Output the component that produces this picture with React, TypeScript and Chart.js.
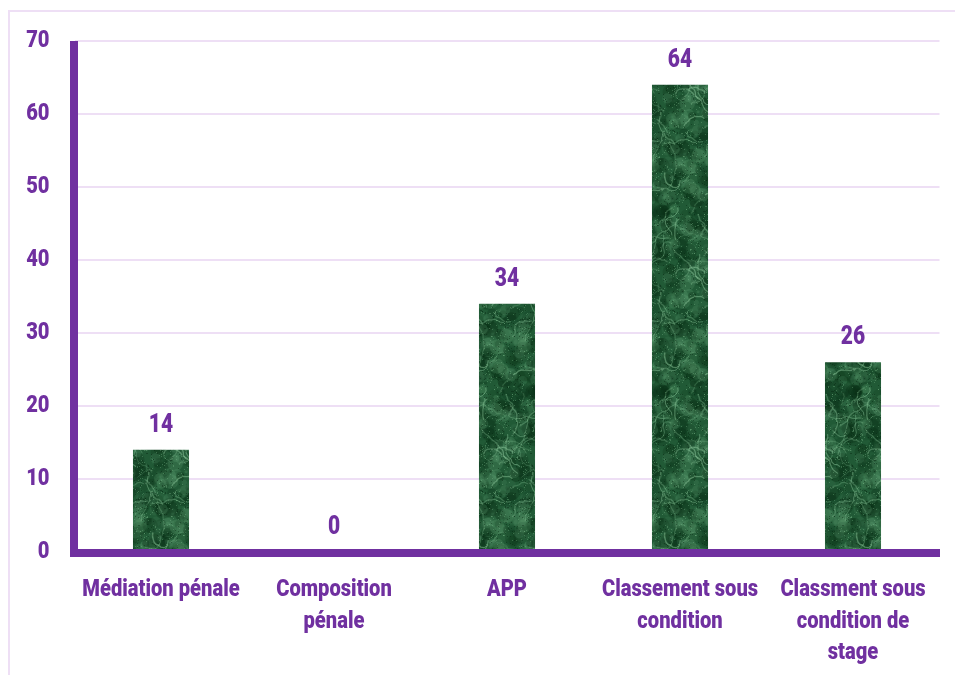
import React, { useEffect, useRef } from "react";
import { Chart, registerables } from "chart.js";

Chart.register(...registerables);

// Number of measures by type of alternative to prosecution
const categories: (string | string[])[] = [
  "Médiation pénale",
  ["Composition", "pénale"],
  "APP",
  ["Classement sous", "condition"],
  ["Classment sous", "condition de", "stage"],
];
const counts: number[] = [14, 0, 34, 64, 26];
const yTicks: number[] = [0, 10, 20, 30, 40, 50, 60, 70];

const PURPLE = "#7030A0";
const GRID = "#EEDFF5";
const FONT = 'Roboto, "Noto Sans", sans-serif';
const WEIGHT = 900;
const NARROW = 0.84; // horizontal squeeze for the condensed lettering

// Small seeded generator so the marble texture is the same on every render
function makeRng(seed: number) {
  let s = seed >>> 0;
  return () => {
    s = (s * 1664525 + 1013904223) >>> 0;
    return s / 4294967296;
  };
}

// Seamless green marble fill for the bars
function marblePattern(ctx: CanvasRenderingContext2D): CanvasPattern | string {
  const w = 64;
  const h = 180;
  const raw = document.createElement("canvas");
  raw.width = w;
  raw.height = h;
  const r = raw.getContext("2d");
  if (!r) return "#1F5A34";
  const rand = makeRng(20240517);
  r.fillStyle = "#215A36";
  r.fillRect(0, 0, w, h);
  const wrap = (draw: (ox: number, oy: number) => void) => {
    for (const ox of [-w, 0, w]) for (const oy of [-h, 0, h]) draw(ox, oy);
  };
  // cloudy variation
  for (let i = 0; i < 320; i++) {
    const x = rand() * w;
    const y = rand() * h;
    const rad = 1.5 + rand() * 7;
    const light = rand() < 0.45;
    const col = light
      ? `rgba(105, 170, 125, ${0.08 + rand() * 0.16})`
      : `rgba(8, 45, 20, ${0.12 + rand() * 0.22})`;
    wrap((ox, oy) => {
      r.fillStyle = col;
      r.beginPath();
      r.arc(x + ox, y + oy, rad, 0, Math.PI * 2);
      r.fill();
    });
  }
  // fine veins
  r.lineCap = "round";
  for (let v = 0; v < 44; v++) {
    let x = rand() * w;
    let y = rand() * h;
    let ang = rand() * Math.PI * 2;
    const col = `rgba(145, 205, 160, ${0.2 + rand() * 0.28})`;
    const lw = 0.6 + rand() * 0.9;
    const pts: [number, number][] = [[x, y]];
    const steps = 5 + Math.floor(rand() * 9);
    for (let s = 0; s < steps; s++) {
      ang += (rand() - 0.5) * 1.4;
      x += Math.cos(ang) * 3;
      y += Math.sin(ang) * 3;
      pts.push([x, y]);
    }
    wrap((ox, oy) => {
      r.strokeStyle = col;
      r.lineWidth = lw;
      r.beginPath();
      pts.forEach(([px, py], k) =>
        k === 0 ? r.moveTo(px + ox, py + oy) : r.lineTo(px + ox, py + oy)
      );
      r.stroke();
    });
  }
  // speckles
  for (let i = 0; i < 900; i++) {
    const x = Math.floor(rand() * w);
    const y = Math.floor(rand() * h);
    r.fillStyle = rand() < 0.5 ? "rgba(125,190,140,0.35)" : "rgba(5,35,15,0.4)";
    r.fillRect(x, y, 1, 1);
  }
  // tile 3x3, soften, keep the centre tile so the edges stay seamless
  const big = document.createElement("canvas");
  big.width = w * 3;
  big.height = h * 3;
  const b = big.getContext("2d");
  if (!b) return "#1F5A34";
  for (let i = 0; i < 3; i++) for (let j = 0; j < 3; j++) b.drawImage(raw, i * w, j * h);
  const soft = document.createElement("canvas");
  soft.width = w;
  soft.height = h;
  const sctx = soft.getContext("2d");
  if (!sctx) return "#1F5A34";
  sctx.filter = "blur(0.6px)";
  sctx.drawImage(big, -w, -h);
  sctx.filter = "none";
  return ctx.createPattern(soft, "repeat") || "#1F5A34";
}

function narrowText(
  ctx: CanvasRenderingContext2D,
  text: string,
  x: number,
  y: number
) {
  ctx.save();
  ctx.translate(x, y);
  ctx.scale(NARROW, 1);
  ctx.fillText(text, 0, 0);
  ctx.restore();
}

// Thin lavender frame around the chart
const framePlugin = {
  id: "frame",
  beforeDraw(chart: any) {
    const { ctx } = chart;
    ctx.save();
    ctx.strokeStyle = GRID;
    ctx.lineWidth = 2;
    ctx.beginPath();
    ctx.moveTo(9, chart.height);
    ctx.lineTo(9, 11);
    ctx.lineTo(chart.width, 11);
    ctx.stroke();
    ctx.restore();
  },
};

// Heavy purple axis lines and condensed tick labels
const axesPlugin = {
  id: "axesText",
  afterDraw(chart: any) {
    const { ctx, chartArea } = chart;
    const xs = chart.scales.x;
    const ys = chart.scales.y;
    ctx.save();
    ctx.fillStyle = PURPLE;
    ctx.fillRect(chartArea.left - 4.5, chartArea.top, 8, chartArea.bottom - chartArea.top + 5);
    ctx.fillRect(chartArea.left - 0.5, chartArea.bottom - 3, chartArea.right - chartArea.left + 1, 8);

    ctx.font = `${WEIGHT} 24px ${FONT}`;
    ctx.textAlign = "right";
    ctx.textBaseline = "middle";
    yTicks.forEach((v) => {
      narrowText(ctx, String(v), ys.right - 25, ys.getPixelForValue(v));
    });

    ctx.textAlign = "center";
    ctx.textBaseline = "middle";
    categories.forEach((c, i) => {
      const lines = Array.isArray(c) ? c : [c];
      const x = xs.getPixelForTick(i);
      lines.forEach((line, j) => {
        narrowText(ctx, line, x, xs.top + 38 + j * 31.5);
      });
    });

    // value above each bar
    const meta = chart.getDatasetMeta(0);
    const data = chart.data.datasets[0].data as number[];
    ctx.font = `${WEIGHT} 25px ${FONT}`;
    ctx.textBaseline = "alphabetic";
    meta.data.forEach((bar: any, i: number) => {
      narrowText(ctx, String(data[i]), bar.x, bar.y - 18);
    });
    ctx.restore();
  },
};

export default function App() {
  const canvasRef = useRef<HTMLCanvasElement | null>(null);

  useEffect(() => {
    const canvas = canvasRef.current;
    if (!canvas) return;
    const ctx = canvas.getContext("2d");
    if (!ctx) return;
    const fill = marblePattern(ctx);

    const chart = new Chart(canvas, {
      type: "bar",
      data: {
        labels: categories,
        datasets: [
          {
            data: counts,
            backgroundColor: fill as any,
            borderWidth: 0,
            categoryPercentage: 1,
            barPercentage: 0.324,
          },
        ],
      },
      options: {
        animation: false,
        responsive: true,
        maintainAspectRatio: false,
        layout: { padding: { top: 41, right: 15.5, bottom: 0, left: 0 } },
        plugins: {
          legend: { display: false },
          tooltip: { enabled: false },
        },
        scales: {
          x: {
            grid: { display: false, drawTicks: false },
            border: { display: false },
            ticks: {
              display: false,
              maxRotation: 0,
              minRotation: 0,
              autoSkip: false,
            },
            afterFit(scale: any) {
              scale.height = 123;
            },
          },
          y: {
            min: 0,
            max: 70,
            afterBuildTicks(scale: any) {
              scale.ticks = yTicks.map((v) => ({ value: v }));
            },
            grid: { color: GRID, lineWidth: 2, drawTicks: false },
            border: { display: false },
            ticks: { display: false },
            afterFit(scale: any) {
              scale.width = 74.5;
            },
          },
        },
      },
      plugins: [framePlugin, axesPlugin],
    });

    return () => chart.destroy();
  }, []);

  return (
    <div
      style={{
        position: "fixed",
        left: 0,
        top: 0,
        width: 955,
        height: 675,
        background: "#ffffff",
      }}
    >
      <canvas ref={canvasRef} />
    </div>
  );
}
